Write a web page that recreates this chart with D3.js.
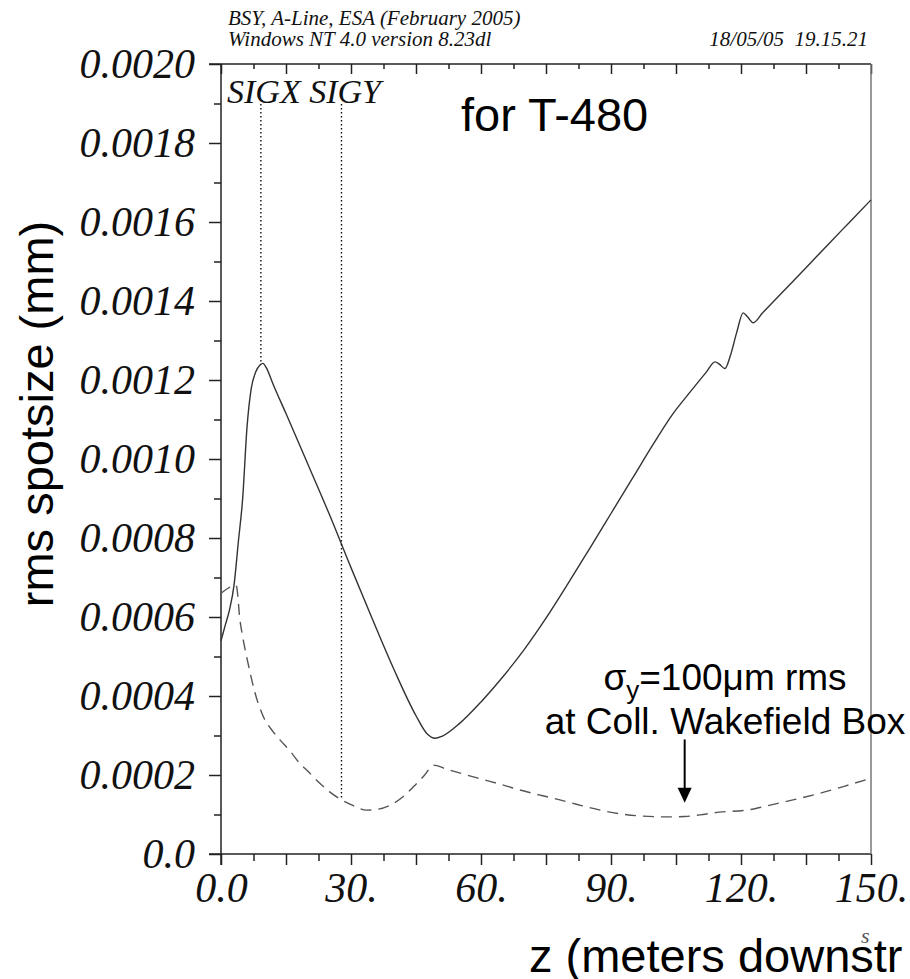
<!DOCTYPE html>
<html>
<head>
<meta charset="utf-8">
<script src="https://cdn.jsdelivr.net/npm/d3@7"></script>
<style>
  body { margin: 0; background: #fff; }
  svg { display: block; background: #fff; }
</style>
</head>
<body>
<svg id="chart" width="910" height="979"></svg>
<script>
// SIGX (solid) - z in metres, rms size in mm
const sigxZ = [0, 1, 2, 3, 4, 5, 6, 7, 8, 9, 9.7, 10.5, 12, 15, 20, 25, 30, 35, 40, 45, 47.5, 49.4, 51, 55,
  60, 65, 70, 75, 80, 85, 90, 95, 100, 104, 108, 112, 114, 115, 116.3, 117.5, 119, 120.5, 121.5, 122.8,
  125, 130, 135, 140, 145, 150];
const sigxV = [0.00054, 0.00058, 0.00062, 0.00068, 0.00079, 0.0009, 0.00108, 0.00118, 0.00122, 0.001238, 0.001242, 0.00123, 0.00119, 0.001115, 0.000988, 0.00086, 0.000725, 0.000593, 0.000465, 0.00035, 0.000305, 0.000293, 0.000298, 0.00033,
  0.000385, 0.000448, 0.000518, 0.000597, 0.000683, 0.000772, 0.000862, 0.000952, 0.001042, 0.00111, 0.001166, 0.00122, 0.001246, 0.00124, 0.001229, 0.00126, 0.00132, 0.00137, 0.00136, 0.001345,
  0.00137, 0.001427, 0.001484, 0.001542, 0.001599, 0.001656];

// SIGY (dashed)
const sigyZ = [0, 2, 3.5, 4.4, 5, 6.3, 7.8, 9.8, 12, 13.6, 16, 18.2, 20, 22.8, 25, 27.8, 30, 33.6, 36, 39.8, 42, 44.4, 47, 49,
  52, 56.7, 60, 65, 69, 74, 78.2, 82, 87.5, 92, 97, 102.9, 107, 110.5, 115, 121.3, 126, 132, 138, 144, 150];
const sigyV = [0.00066, 0.000675, 0.00068, 0.00059, 0.00055, 0.00048, 0.00041, 0.000347, 0.00031, 0.000289, 0.00026, 0.000229, 0.00021, 0.000179, 0.000158, 0.000137, 0.000125, 0.000111, 0.000113, 0.000128, 0.000145, 0.00017, 0.0002, 0.000225,
  0.000215, 0.0002, 0.00019, 0.000175, 0.000162, 0.000148, 0.000137, 0.000126, 0.000111, 0.000102, 0.000096, 0.000094, 0.000095, 0.000099, 0.000106, 0.000111, 0.000122, 0.000137, 0.000153, 0.000172, 0.000192];

const xTickValues = [0, 30, 60, 90, 120, 150];
const xTickLabels = ['0.0', '30.', '60.', '90.', '120.', '150.'];
const yTickValues = [0, 0.0002, 0.0004, 0.0006, 0.0008, 0.001, 0.0012, 0.0014, 0.0016, 0.0018, 0.002];
const yTickLabels = ['0.0', '0.0002', '0.0004', '0.0006', '0.0008', '0.0010', '0.0012', '0.0014', '0.0016', '0.0018', '0.0020'];

// label markers: SIGX at z 9.2 on solid, SIGY at z 27.8 on dashed
const markerZ = [9.2, 27.8];
// arrow pointing at the wakefield box
const arrowZ = 107;
const arrowV = [0.00029, 0.00013];

const serif = '"Liberation Serif", "Times New Roman", serif';
const sans = '"Liberation Sans", Arial, sans-serif';

const svg = d3.select('#chart');
const x = d3.scaleLinear().domain([0, 150]).range([221, 871]);
const y = d3.scaleLinear().domain([0, 0.002]).range([854, 64]);

const xMajor = d3.range(0, 151, 15);
const xMinor = d3.range(7.5, 150, 15);
const yMinor = d3.range(1, 20, 2).map(k => k * 0.0001);

function styleAxis(g) {
  g.select('.domain').remove();
  g.selectAll('.tick line').attr('stroke', '#222').attr('stroke-width', 1.5);
  g.attr('font-family', serif).attr('font-size', 42);
  g.selectAll('.tick text').attr('font-style', 'italic').attr('fill', '#111');
}

// bottom axis
svg.append('g').attr('transform', 'translate(0,854)')
  .call(d3.axisBottom(x).tickValues(xMajor).tickSize(11).tickPadding(7)
    .tickFormat(d => { const i = xTickValues.indexOf(d); return i < 0 ? '' : xTickLabels[i]; }))
  .call(styleAxis);
svg.append('g').attr('transform', 'translate(0,854)')
  .call(d3.axisBottom(x).tickValues(xMinor).tickSize(7).tickFormat(''))
  .call(styleAxis);

// top axis, ticks inward
svg.append('g').attr('transform', 'translate(0,64)')
  .call(d3.axisTop(x).tickValues(xMajor).tickSize(-10).tickFormat(''))
  .call(styleAxis);
svg.append('g').attr('transform', 'translate(0,64)')
  .call(d3.axisTop(x).tickValues(xMinor).tickSize(-5).tickFormat(''))
  .call(styleAxis);

// left axis
svg.append('g').attr('transform', 'translate(221,0)')
  .call(d3.axisLeft(y).tickValues(yTickValues).tickSize(12).tickPadding(14)
    .tickFormat((d, i) => yTickLabels[i]))
  .call(styleAxis);
svg.append('g').attr('transform', 'translate(221,0)')
  .call(d3.axisLeft(y).tickValues(yMinor).tickSize(7).tickFormat(''))
  .call(styleAxis);

// frame lines
const frame = svg.append('g').attr('stroke-width', 1.5);
frame.append('line').attr('x1', 209).attr('x2', x(150)).attr('y1', y(0)).attr('y2', y(0)).attr('stroke', '#222');
frame.append('line').attr('x1', 209).attr('x2', x(150)).attr('y1', y(0.002)).attr('y2', y(0.002)).attr('stroke', '#222');
frame.append('line').attr('x1', x(0)).attr('x2', x(0)).attr('y1', y(0.002)).attr('y2', y(0) + 11).attr('stroke', '#222');
frame.append('line').attr('x1', x(150)).attr('x2', x(150)).attr('y1', y(0.002)).attr('y2', y(0)).attr('stroke', '#777');

// curves
const line = d3.line().x(d => x(d[0])).y(d => y(d[1])).curve(d3.curveMonotoneX);
svg.append('path').datum(sigxZ.map((z, i) => [z, sigxV[i]]))
  .attr('d', line).attr('fill', 'none').attr('stroke', '#333').attr('stroke-width', 1.4);
svg.append('path').datum(sigyZ.map((z, i) => [z, sigyV[i]]))
  .attr('d', line).attr('fill', 'none').attr('stroke', '#555').attr('stroke-width', 1.4)
  .attr('stroke-dasharray', '11,7');

// marker leader lines
const solidAt = z => d3.scaleLinear().domain(sigxZ).range(sigxV)(z);
const dashAt = z => d3.scaleLinear().domain(sigyZ).range(sigyV)(z);
[solidAt(markerZ[0]), dashAt(markerZ[1])].forEach((v, i) => {
  svg.append('line').attr('x1', x(markerZ[i])).attr('x2', x(markerZ[i]))
    .attr('y1', 104).attr('y2', y(v))
    .attr('stroke', '#111').attr('stroke-width', 1.4).attr('stroke-dasharray', '1.5,2.5');
});

// texts
const txt = (s, px, py, fs, fam, opts = {}) => svg.append('text').attr('x', px).attr('y', py)
  .attr('font-size', fs).attr('font-family', fam).attr('font-style', opts.italic ? 'italic' : 'normal')
  .attr('text-anchor', opts.anchor || 'start').attr('fill', '#111').text(s);

txt('BSY, A-Line, ESA (February 2005)', 228, 25, 21, serif, { italic: true });
txt('Windows NT 4.0 version 8.23dl', 228, 46, 21, serif, { italic: true });
txt('18/05/05  19.15.21', 868, 46, 21, serif, { italic: true, anchor: 'end' }).attr('xml:space', 'preserve');
txt('SIGX SIGY', 227, 103, 34, serif, { italic: true });
txt('for T-480', 461, 131, 47, sans).attr('fill', '#000');

const sig = svg.append('text').attr('x', 725).attr('y', 690).attr('font-size', 37)
  .attr('font-family', sans).attr('text-anchor', 'middle').attr('fill', '#000');
sig.append('tspan').text('σ');
sig.append('tspan').attr('dy', 9).attr('font-size', 26).text('y');
sig.append('tspan').attr('dy', -9).text('=100μm rms');
txt('at Coll. Wakefield Box', 725, 734, 37, sans, { anchor: 'middle' }).attr('fill', '#000');

// arrow
const ax = x(arrowZ), ay0 = y(arrowV[0]), ay1 = y(arrowV[1]);
svg.append('line').attr('x1', ax).attr('x2', ax).attr('y1', ay0).attr('y2', ay1 - 14)
  .attr('stroke', '#000').attr('stroke-width', 2);
svg.append('path').attr('d', `M${ax - 7},${ay1 - 15}L${ax + 7},${ay1 - 15}L${ax},${ay1}Z`).attr('fill', '#000');

// axis titles
svg.append('text').attr('transform', 'translate(53,414) rotate(-90)').attr('text-anchor', 'middle')
  .attr('font-size', 47).attr('font-family', sans).attr('fill', '#000').text('rms spotsize (mm)');
txt('z (meters downstr', 529, 972, 47, sans).attr('fill', '#000');
txt('s', 861, 943, 22, serif, { italic: true }).attr('fill', '#555');
</script>
</body>
</html>
